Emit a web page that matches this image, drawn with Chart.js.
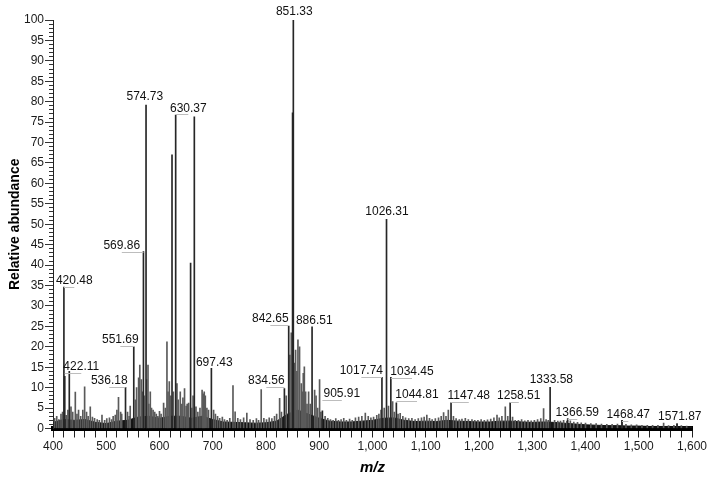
<!DOCTYPE html>
<html lang="en">
    <head>
        <meta charset="UTF-8">
        <title>Mass spectrum</title>
        <script src="https://cdn.jsdelivr.net/npm/chart.js"></script>
        <style>
            body {
                margin: 0;
                background: #fff;
            }
            #chart {
                display: block;
            }
        </style>
    </head>
    <body>
        <canvas id="chart" width="713" height="481"></canvas>
        <script>
            // main peaks (dark sticks)
            const peakMz = [420.48, 422.11, 430.6, 536.18, 551.69, 569.86, 574.73, 623.5, 630.37, 658.4, 665.4,
                697.43, 834.56, 842.65, 849.9, 851.33, 886.51, 905.91, 1017.74, 1026.31, 1034.45, 1044.81,
                1147.48, 1258.51, 1333.58, 1366.59, 1468.47, 1571.87];
            const peakAbundance = [34.6, 12.8, 14.0, 10.1, 20.0, 43.3, 79.2, 67.0, 76.7, 40.5, 76.3,
                14.7, 9.8, 25.1, 77.3, 100, 24.9, 4.3, 12.5, 51.2, 12.5, 6.3,
                6.3, 6.3, 10.1, 2.4, 2.0, 1.2];

            // smaller peaks / grass
            const grassMz = [403, 407, 411, 415, 418, 425, 428, 433.8, 437, 441.9, 445, 448, 452, 456, 459.4, 463, 466, 470,
                474, 478, 483, 487, 492, 497, 501, 506, 510, 513, 517, 520, 523, 527, 529, 540, 543, 545, 555, 557,
                560.8, 563, 566, 568, 571, 576, 578.4, 580, 582.7, 585, 588, 591, 594, 597, 600, 603, 607.7, 611, 614,
                616, 618.4, 621, 626, 632.8, 635, 639, 642, 644, 647, 650, 652, 654.7, 661, 663, 668.5, 672, 676, 680,
                682, 684, 686, 689, 692, 701.6, 705, 709, 713, 718, 722, 727, 732, 738, 742, 747, 752, 758, 764, 770,
                776, 782, 786, 791, 796, 801, 806, 811, 816, 820, 825.6, 829, 838, 845, 847.5, 853, 855.6, 858, 860,
                863, 866.3, 868, 870, 872, 874.4, 877, 880, 883, 891.3, 894, 897, 900.6, 903, 911, 916, 921, 926, 931,
                936, 941, 946, 951, 957, 962, 968, 974, 980, 986.5, 992, 997, 1002, 1008, 1012, 1016, 1022, 1030,
                1037.8, 1041, 1048, 1052, 1057, 1062, 1068, 1074, 1080, 1086, 1092, 1097, 1102, 1107, 1112, 1118,
                1124, 1129, 1133.5, 1138, 1142.4, 1152, 1157, 1163, 1168, 1174.3, 1180, 1186.8, 1192, 1198, 1204,
                1210, 1216, 1222, 1228, 1233.8, 1238, 1243, 1249.4, 1254, 1263, 1268, 1274, 1280, 1286, 1292, 1298,
                1304, 1310, 1316, 1321.3, 1326, 1330, 1342, 1348, 1353, 1358.9, 1365, 1371.5, 1378, 1385, 1392, 1400,
                1410, 1420, 1430, 1440, 1450, 1460, 1468.5, 1476, 1486, 1496, 1506, 1516, 1526, 1536, 1546.7, 1556,
                1566, 1572, 1580, 1590];
            const grassAbundance = [2.5, 3.0, 2.2, 3.5, 4.0, 3.2, 4.5, 5.3, 4.0, 8.9, 3.5, 4.5, 3.0, 4.5, 10.2, 4.0, 3.0, 5.3,
                2.8, 2.5, 2.2, 2.0, 3.3, 2.0, 2.4, 2.6, 2.2, 3.0, 3.3, 4.5, 7.6, 4.0, 3.5, 4.0, 3.0, 5.5, 7.0, 10.0,
                12.4, 15.5, 12.0, 9.0, 8.0, 12.0, 15.5, 6.0, 9.0, 5.0, 4.5, 4.0, 3.5, 3.0, 4.2, 3.5, 6.2, 5.0, 21.2,
                9.0, 11.5, 8.0, 9.0, 11.0, 7.0, 9.0, 6.0, 7.5, 9.8, 5.5, 6.0, 6.2, 5.0, 8.0, 5.3, 4.0, 5.0, 9.4,
                8.5, 9.0, 8.0, 5.0, 4.5, 4.5, 3.5, 3.0, 2.5, 2.8, 2.2, 2.0, 2.5, 10.5, 4.1, 2.5, 2.2, 2.6, 3.8, 2.2,
                2.0, 2.4, 2.0, 9.5, 2.5, 2.2, 2.6, 2.4, 3.0, 3.5, 7.4, 4.0, 8.0, 18.0, 23.4, 16.0, 19.2, 14.0, 21.7,
                20.0, 11.0, 9.0, 13.5, 15.1, 9.0, 6.0, 9.0, 6.0, 9.4, 8.0, 5.0, 12.0, 4.0, 3.0, 2.5, 2.2, 2.0, 2.4,
                2.0, 2.2, 2.5, 2.0, 2.3, 2.0, 2.6, 2.8, 3.0, 3.8, 3.0, 2.6, 2.8, 3.2, 3.5, 4.5, 5.0, 5.5,
                6.6, 4.0, 3.5, 3.7, 3.0, 2.6, 2.4, 2.5, 2.2, 2.4, 2.6, 2.8, 3.3, 2.5, 2.2, 2.4,
                2.6, 3.0, 3.9, 3.0, 4.5, 3.0, 2.4, 2.2, 2.3, 2.5, 2.2, 2.2, 2.0, 2.0, 2.2,
                2.0, 2.1, 2.3, 2.6, 3.3, 2.6, 3.0, 5.3, 3.0, 2.8, 2.0, 2.0, 2.2, 1.9, 2.0, 1.9,
                2.0, 2.2, 2.4, 4.9, 2.2, 2.0, 2.0, 1.8, 1.8, 2.0, 1.8, 1.9, 1.6, 1.5, 1.4, 1.3,
                1.2, 1.2, 1.1, 1.0, 1.0, 1.1, 2.0, 1.0, 0.9, 0.9, 0.8, 0.8, 0.8, 0.8, 1.3, 0.7,
                0.8, 1.0, 0.7, 0.6];

            // noise floor, read every 20 m/z
            const floorMz = [400, 420, 440, 460, 480, 500, 520, 540, 560, 580, 600, 620, 640, 660, 680, 700, 720, 740, 760,
                780, 800, 820, 840, 860, 880, 900, 920, 940, 960, 980, 1000, 1020, 1040, 1060, 1080, 1100, 1120, 1140,
                1160, 1180, 1200, 1220, 1240, 1260, 1280, 1300, 1320, 1340, 1360, 1380, 1400, 1420, 1440, 1460, 1480,
                1500, 1520, 1540, 1560, 1580, 1600];
            const floorAbundance = [1.5, 2.2, 2.0, 2.2, 1.5, 1.2, 1.8, 2.0, 2.8, 3.0, 2.5, 3.0, 3.0, 2.5, 3.0, 2.2, 1.6, 1.5,
                1.4, 1.3, 1.4, 1.8, 3.5, 4.5, 3.5, 2.5, 1.8, 1.6, 1.6, 1.8, 2.0, 2.5, 2.6, 2.0, 1.7, 1.8, 1.7, 2.0,
                1.8, 1.7, 1.6, 1.6, 1.8, 1.8, 1.6, 1.5, 1.6, 1.5, 1.3, 1.1, 0.9, 0.8, 0.7, 0.7, 0.6,
                0.6, 0.5, 0.5, 0.5, 0.4, 0.4];

            // peak annotations and where their text sits (in m/z, abundance)
            const labelText = ['420.48', '422.11', '536.18', '551.69', '569.86', '574.73', '630.37', '697.43', '834.56',
                '842.65', '851.33', '886.51', '905.91', '1017.74', '1026.31', '1034.45', '1044.81', '1147.48',
                '1258.51', '1333.58', '1366.59', '1468.47', '1571.87'];
            const labelAtMz = [440.0, 453.1, 505.7, 526.4, 529.2, 572.4, 654.1, 702.9, 800.6,
                808.1, 853.1, 890.7, 942.4, 979.0, 1027.2, 1074.2, 1083.6, 1180.8,
                1274.7, 1335.8, 1384.6, 1480.4, 1577.1];
            const labelAtAbundance = [36.1, 15.1, 11.7, 21.7, 44.7, 81.2, 78.4, 16.1, 11.7,
                26.8, 102.0, 26.3, 8.4, 14.1, 53.1, 13.9, 8.2, 8.0,
                8.0, 11.9, 3.8, 3.3, 2.8];

            const sans = "'Liberation Sans', Arial, sans-serif";

            const peakLabels = {
                id: 'peakLabels',
                afterDatasetsDraw(chart) {
                    const ctx = chart.ctx;
                    const xs = chart.scales.x;
                    const ys = chart.scales.y;
                    ctx.save();
                    ctx.font = '12px ' + sans;
                    ctx.textAlign = 'center';
                    ctx.textBaseline = 'middle';
                    labelText.forEach((t, i) => {
                        const x = xs.getPixelForValue(labelAtMz[i]);
                        const y = ys.getPixelForValue(labelAtAbundance[i]);
                        const px = xs.getPixelForValue(parseFloat(t));
                        if (Math.abs(px - x) > 4) {
                            ctx.strokeStyle = '#bdbdbd';
                            ctx.lineWidth = 1;
                            ctx.beginPath();
                            ctx.moveTo(px, Math.round(y + 6) + 0.5);
                            ctx.lineTo(x, Math.round(y + 6) + 0.5);
                            ctx.stroke();
                        }
                        ctx.fillStyle = '#111';
                        ctx.fillText(t, x, y);
                    });
                    ctx.restore();
                }
            };

            const toXY = (xs, ys) => xs.map((v, i) => ({x: v, y: ys[i]}));

            new Chart(document.getElementById('chart'), {
                type: 'bar',
                data: {
                    datasets: [
                        {
                            type: 'line',
                            data: toXY(floorMz, floorAbundance),
                            borderColor: '#111',
                            borderWidth: 1,
                            backgroundColor: '#141414',
                            fill: 'origin',
                            pointRadius: 0,
                            tension: 0,
                            order: 3
                        },
                        {
                            data: toXY(grassMz, grassAbundance),
                            backgroundColor: '#5a5a5a',
                            barThickness: 1,
                            grouped: false,
                            order: 2
                        },
                        {
                            data: toXY(peakMz, peakAbundance),
                            backgroundColor: '#262626',
                            barThickness: 1,
                            grouped: false,
                            order: 1
                        }
                    ]
                },
                options: {
                    responsive: false,
                    animation: false,
                    layout: {
                        padding: {top: 20, right: 21, left: 0, bottom: 0}
                    },
                    plugins: {
                        legend: {display: false},
                        tooltip: {enabled: false}
                    },
                    scales: {
                        x: {
                            type: 'linear',
                            min: 400,
                            max: 1600,
                            offset: false,
                            afterFit(scale) {
                                scale.height = 52.5;
                            },
                            border: {display: true, color: '#000', width: 5},
                            grid: {
                                drawOnChartArea: false,
                                drawTicks: true,
                                tickLength: 9,
                                tickColor: '#222',
                                offset: false
                            },
                            ticks: {
                                stepSize: 20,
                                autoSkip: false,
                                maxRotation: 0,
                                maxTicksLimit: 200,
                                padding: 2,
                                color: '#1a1a1a',
                                font: {family: sans, size: 12},
                                callback: v => v % 100 === 0 ? v.toLocaleString('en-US') : ''
                            },
                            title: {
                                display: true,
                                text: 'm/z',
                                color: '#000',
                                padding: {top: 0, bottom: 4},
                                font: {family: sans, size: 15, weight: 'bold', style: 'italic'}
                            }
                        },
                        y: {
                            min: 0,
                            max: 100,
                            afterFit(scale) {
                                scale.width = 53;
                            },
                            border: {display: true, color: '#222', width: 1},
                            grid: {
                                drawOnChartArea: false,
                                drawTicks: true,
                                tickLength: 8,
                                tickColor: '#333',
                                tickBorderDash: ctx => ctx.tick && ctx.tick.value % 5 === 0 ? [] : [0, 4, 4, 20]
                            },
                            ticks: {
                                stepSize: 1,
                                autoSkip: false,
                                maxTicksLimit: 200,
                                padding: 1,
                                color: '#1a1a1a',
                                font: {family: sans, size: 12},
                                callback: v => v % 5 === 0 ? v : ''
                            },
                            title: {
                                display: true,
                                text: 'Relative abundance',
                                color: '#000',
                                padding: {top: 7, bottom: 0},
                                font: {family: sans, size: 14, weight: 'bold'}
                            }
                        }
                    }
                },
                plugins: [peakLabels]
            });
        </script>
    </body>
</html>
